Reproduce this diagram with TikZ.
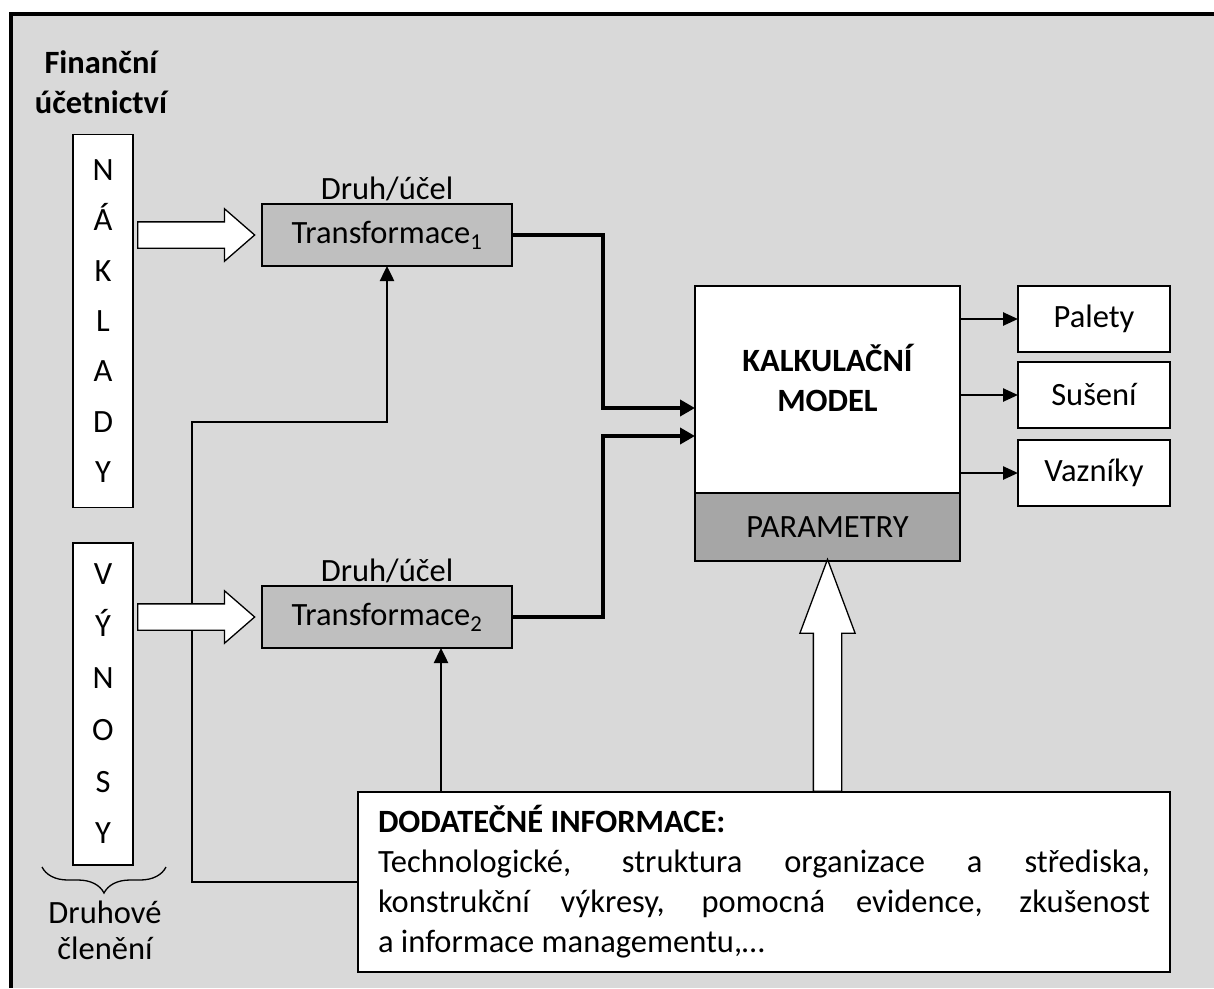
\documentclass[tikz,border=0pt]{standalone}
\usepackage{fontspec}
\setmainfont{Carlito}
\usetikzlibrary{
    arrows.meta,
    positioning,
    shapes.arrows,
    calc,
    decorations.pathreplacing
}
\definecolor{bggray}{HTML}{D9D9D9}
\definecolor{transgray}{HTML}{BFBFBF}
\definecolor{paramgray}{HTML}{A6A6A6}

\begin{document}
\begin{tikzpicture}[
    x=1pt, y=-1pt,
    font=\fontsize{32.5}{38}\selectfont,
    box/.style={draw, line width=1.3pt, fill=white, inner sep=0pt, outer sep=0pt},
    transbox/.style={box, fill=transgray, minimum width=250pt, minimum height=62pt},
    letterbox/.style={box, minimum width=60pt, align=center},
    outbox/.style={box, minimum width=152pt, minimum height=66pt},
    lbl/.style={inner sep=2pt},
    thinlink/.style={line width=2.5pt, -{Triangle[length=15pt, width=14pt]}},
    thicklink/.style={line width=4.5pt, -{Triangle[length=15pt, width=16pt]}},
    outlink/.style={line width=2.5pt, -{Triangle[length=15pt, width=13pt]}},
    bigarrow/.style={single arrow, draw, fill=white, line width=1.3pt, inner xsep=0pt, single arrow head indent=0pt}
]
% page and frame
\useasboundingbox (0,0) rectangle (1214,988);
\fill[bggray] (11,14) rectangle (1214,988);
\draw[line width=4.5pt] (11,988) -- (11,14) -- (1214,14);

% source data
\node[font=\fontsize{32.5}{40}\selectfont\bfseries, align=center] (fin) at (101,82) {Finanční\\účetnictví};
\node[letterbox, minimum height=373pt, font=\fontsize{32.5}{50.3}\selectfont] (naklady) at (103,321) {N\\Á\\K\\L\\A\\D\\Y};
\node[letterbox, minimum height=322pt, font=\fontsize{32.5}{51.8}\selectfont] (vynosy) at (103,704) {V\\Ý\\N\\O\\S\\Y};
\draw[line width=1.3pt, decorate, decoration={brace, mirror, amplitude=26pt}] ($(vynosy.south west)+(-31,2)$) -- ($(vynosy.south east)+(33,2)$);
\node[align=center, font=\fontsize{32.5}{36}\selectfont] (druh) at (105,930) {Druhové\\členění};

% transformations
\node[transbox] (trans1) at (387,235) {Transformace\textsubscript{1}};
\node[transbox] (trans2) at (387,617) {Transformace\textsubscript{2}};
\node[lbl, above=1pt of trans1] (ucel1) {Druh/účel};
\node[lbl, above=1pt of trans2] (ucel2) {Druh/účel};

% calculation model and outputs
\node[box, minimum width=265pt, minimum height=207pt] (kalk) at (827.5,389.5) {};
\node[font=\fontsize{32.5}{40}\selectfont\bfseries, align=center] (kalktxt) at ($(kalk)+(0,-12)$) {KALKULAČNÍ\\MODEL};
\node[box, fill=paramgray, minimum width=265pt, minimum height=68pt, anchor=north] (param) at (kalk.south) {PARAMETRY};
\node[outbox] (palety) at (1094,319) {Palety};
\node[outbox] (suseni) at (1094,395) {Sušení};
\node[outbox] (vazniky) at (1094,473) {Vazníky};

% additional information
\node[box, minimum width=812pt, minimum height=180pt, text width=772pt, align=justify, font=\fontsize{32.5}{40}\selectfont] (doda) at (764,882) {\textbf{DODATEČNÉ INFORMACE:}\\
Technologické, struktura organizace a střediska,\linebreak
konstrukční výkresy, pomocná evidence, zkušenost\linebreak
a informace managementu,…};

% connectors
\coordinate (jn) at (192,422);
\draw[thinlink] (doda.west) -| (jn) -| (trans1.south);
\coordinate (tr2in) at ($(trans2.south)+(54,0)$);
\draw[thinlink] (doda.north -| tr2in) -- (tr2in);
\coordinate (k1) at ($(kalk.west)+(0,18.5)$);
\coordinate (k2) at ($(kalk.west)+(0,46.5)$);
\draw[thicklink] (trans1.east) -| ($(k1)+(-92,0)$) -- (k1);
\draw[thicklink] (trans2.east) -| ($(k2)+(-92,0)$) -- (k2);
\foreach \o in {palety,suseni,vazniky}
    \draw[outlink] (kalk.east |- \o.west) -- (\o.west);

% hollow arrows
\node[bigarrow, inner ysep=12.5pt, minimum height=117pt, single arrow head extend=13pt, single arrow tip angle=82, anchor=tail] (arr1) at ($(naklady.east |- trans1.west)+(4,0)$) {};
\node[bigarrow, inner ysep=12.5pt, minimum height=117pt, single arrow head extend=13pt, single arrow tip angle=82, anchor=tail] (arr2) at ($(vynosy.east |- trans2.west)+(4,0)$) {};
\node[bigarrow, rotate=90, inner ysep=13.5pt, minimum height=232pt, single arrow head extend=13.5pt, single arrow tip angle=41, anchor=tail] (arr3) at (param.south |- doda.north) {};
\end{tikzpicture}
\end{document}
